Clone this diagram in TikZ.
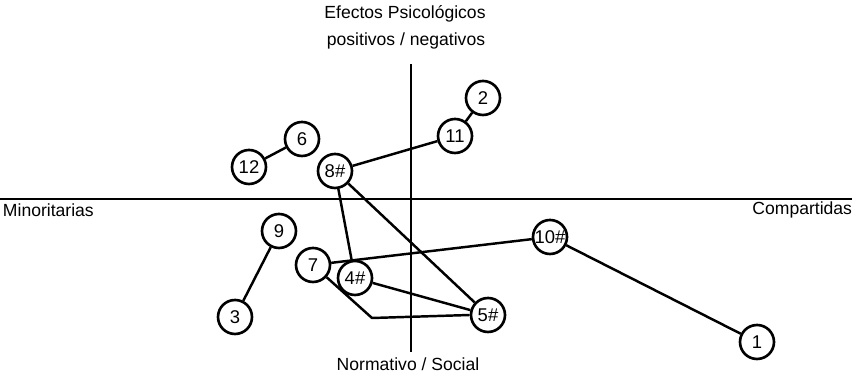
\documentclass[tikz,border=0pt]{standalone}
\usepackage{fontspec}
\setmainfont{Liberation Sans}
\usetikzlibrary{calc,positioning}

\begin{document}
\begin{tikzpicture}[
  x=0.02cm, y=-0.02cm,
  every node/.style={inner sep=1.5pt},
  item/.style={circle,draw=black,line width=1.5pt,minimum size=0.68cm,inner sep=0pt,font=\fontsize{10.5}{12}\selectfont},
  axis/.style={line width=1.3pt},
  link/.style={line width=1.4pt},
  lab/.style={font=\fontsize{10}{12}\selectfont},
]
  \useasboundingbox (0,0) rectangle (855,377);
  % ============ axes ============
  \coordinate (top) at (411,64);
  \coordinate (bot) at (411,352);
  \coordinate (left) at (0,199);
  \coordinate (right) at (852,199);
  \draw[axis] (top) -- (bot);
  \draw[axis] (left) -- (right);
  \node[lab] (ttlA) at (405,14) {Efectos Psicológicos};
  \node[lab] (ttlB) at (406,41) {positivos / negativos};
  \node[lab] (ttlC) at (408,364) {Normativo / Social};
  \node[lab,anchor=west] (ttlL) at (0,210) {Minoritarias};
  \node[lab,anchor=east] (ttlR) at (855,210) {Compartidas};
  % ============ items ============
  \node[item] (n2) at (483,98) {2};
  \node[item] (n11) at (455,136) {11};
  \node[item] (n6) at (302,139) {6};
  \node[item] (n12) at (249,167) {12};
  \node[item] (n8) at (335,171) {8\#};
  \node[item] (n9) at (279,231) {9};
  \node[item] (n10) at (550,237) {10\#};
  \node[item] (n7) at (313,265) {7};
  \node[item] (n4) at (355,278) {4\#};
  \node[item] (n3) at (235,317) {3};
  \node[item] (n5) at (488,315) {5\#};
  \node[item] (n1) at (757,342) {1};
  \coordinate (bend) at (372,318);
  % ============ links ============
  \draw[link] (n12) -- (n6);
  \draw[link] (n11) -- (n2);
  \draw[link] (n8) -- (n11);
  \draw[link] (n8) -- (n4);
  \draw[link] (n8) -- (n5);
  \draw[link] (n9) -- (n3);
  \draw[link] (n7) -- (n10);
  \draw[link] (n4) -- (n5);
  \draw[link] (n7) -- (bend) -- (n5.west);
  \draw[link] (n10) -- (n1);
\end{tikzpicture}
\end{document}
